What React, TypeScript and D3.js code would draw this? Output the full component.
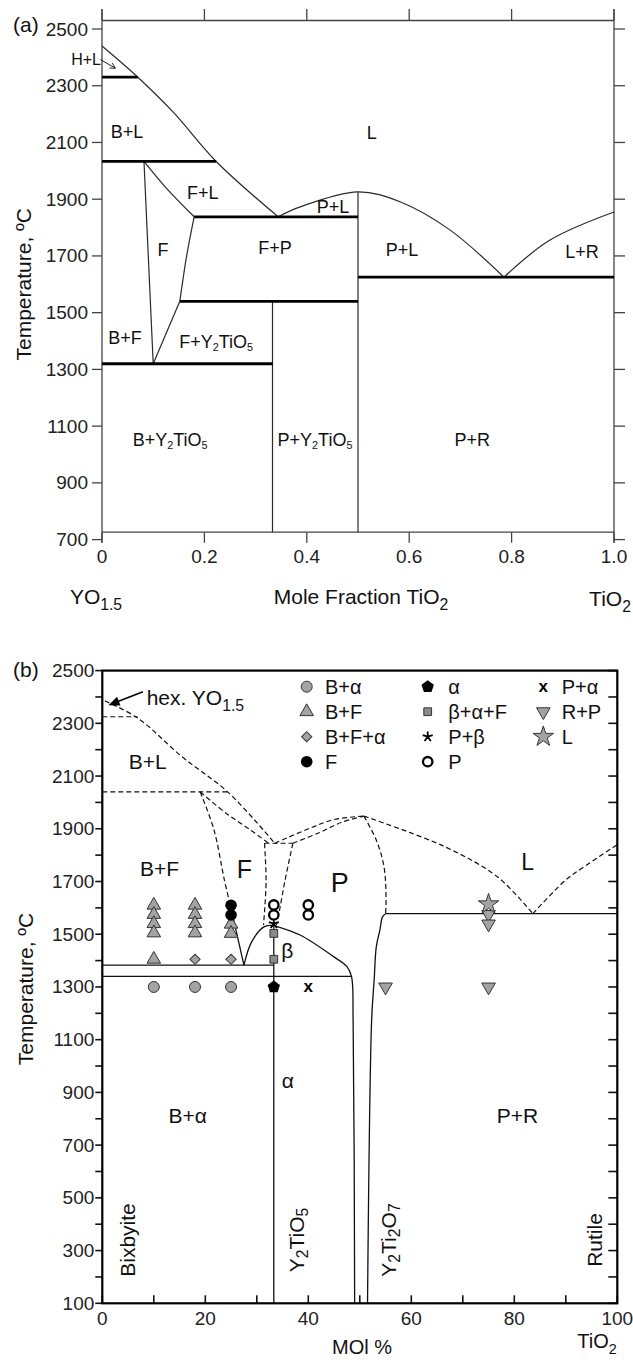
import * as d3 from "d3";

const FONT = "'Liberation Sans', Arial, Helvetica, sans-serif";

// ---------- panel (a): mole fraction TiO2 vs temperature ----------
const aTicksX = [0, 0.2, 0.4, 0.6, 0.8, 1.0];
const aTickLabelsX = ["0", "0.2", "0.4", "0.6", "0.8", "1.0"];
const aTicksY = [700, 900, 1100, 1300, 1500, 1700, 1900, 2100, 2300, 2500];

// thin phase boundaries [x, T]
const aLiquidusLeft = [[0, 2440], [0.07, 2330], [0.14, 2205], [0.223, 2033], [0.344, 1838]];
const aFLSolidus = [[0.082, 2033], [0.126, 1938], [0.18, 1838]];
const aFLeft = [[0.082, 2033], [0.1, 1320]];
const aFRightUpper = [[0.18, 1838], [0.165, 1697], [0.152, 1540]];
const aFRightLower = [[0.152, 1540], [0.1, 1320]];
const aY2TiO5Line = [[0.333, 726], [0.333, 1540]];
const aPyroLine = [[0.5, 726], [0.5, 1926]];
const aPLiquidus = [[0.344, 1838], [0.387, 1873], [0.5, 1926], [0.582, 1891], [0.68, 1791], [0.785, 1625]];
const aLRLiquidus = [[0.785, 1625], [0.875, 1756], [1.0, 1855]];
// invariant (bold) lines
const aInvariants = [
  [[0, 2330], [0.07, 2330]],
  [[0, 2033], [0.223, 2033]],
  [[0.18, 1838], [0.5, 1838]],
  [[0.152, 1540], [0.5, 1540]],
  [[0, 1320], [0.333, 1320]],
  [[0.5, 1625], [1.0, 1625]],
];
const aLabels = [
  { t: "B+L", x: 0.049, T: 2137 },
  { t: "F+L", x: 0.197, T: 1922 },
  { t: "F", x: 0.119, T: 1721 },
  { t: "F+P", x: 0.338, T: 1728 },
  { t: "L", x: 0.527, T: 2133 },
  { t: "P+L", x: 0.451, T: 1872 },
  { t: "P+L", x: 0.586, T: 1721 },
  { t: "L+R", x: 0.9375, T: 1714 },
  { t: "B+F", x: 0.045, T: 1411 },
  { t: "F+Y_{2}TiO_{5}", x: 0.223, T: 1397 },
  { t: "B+Y_{2}TiO_{5}", x: 0.133, T: 1051 },
  { t: "P+Y_{2}TiO_{5}", x: 0.416, T: 1051 },
  { t: "P+R", x: 0.723, T: 1051 },
];

// ---------- panel (b): mol % TiO2 vs temperature ----------
const bTicksX = [0, 10, 20, 30, 40, 50, 60, 70, 80, 90, 100];
const bTickLabelsX = [0, 20, 40, 60, 80, 100];
const bTicksY = [100, 200, 300, 400, 500, 600, 700, 800, 900, 1000, 1100, 1200, 1300, 1400, 1500,
  1600, 1700, 1800, 1900, 2000, 2100, 2200, 2300, 2400, 2500];
const bTickLabelsY = [100, 300, 500, 700, 900, 1100, 1300, 1500, 1700, 1900, 2100, 2300, 2500];

const bDashed = [
  [[0.5, 2385], [6.8, 2321], [15.5, 2173], [24.5, 2037], [33.5, 1845]],
  [[0, 2325], [6.8, 2325]],
  [[0, 2040], [24.5, 2040]],
  [[19, 2040], [24.1, 1958], [28.8, 1895], [32.3, 1845]],
  [[19, 2040], [21.7, 1895], [23.7, 1706], [24.8, 1615]],
  [[31.5, 1845], [31.8, 1700], [31.3, 1535]],
  [[31.5, 1845], [37, 1845]],
  [[37, 1845], [35.5, 1706], [34.5, 1600], [33.8, 1535]],
  [[33.5, 1845], [39.8, 1898], [45, 1935], [50.8, 1948]],
  [[37, 1845], [42.1, 1885], [46.5, 1925], [50.8, 1948]],
  [[50.8, 1948], [53.2, 1857], [54.7, 1756], [55.1, 1630], [55, 1578]],
  [[50.8, 1948], [66.5, 1832], [76.7, 1718], [83.6, 1578]],
  [[83.6, 1578], [90, 1706], [93.2, 1751], [100, 1840]],
];
const bSolid = [
  [[0, 1383], [33.3, 1383]],
  [[0, 1340], [48.4, 1340]],
  [[33.3, 100], [33.3, 1533]],
  [[24.8, 1615], [27.5, 1383]],
  [[27.5, 1383], [29, 1471], [31.4, 1528], [33.3, 1533]],
  [[33.3, 1533], [38.4, 1497], [44.9, 1415], [47.5, 1377], [48.4, 1339], [48.7, 1175], [49, 100]],
  [[55, 1578], [54.4, 1566], [53.9, 1516], [53.2, 1452], [52.8, 1330], [52.3, 1175], [51.5, 100]],
  [[55, 1578], [100, 1578]],
];

// experimental points [mol %, T]
const ptsBAlpha = [[10, 1300], [18, 1300], [25, 1300]];
const ptsBF = [[10, 1610], [10, 1575], [10, 1540], [10, 1505], [10, 1405],
  [18, 1610], [18, 1575], [18, 1540], [18, 1505], [25, 1538], [25, 1503]];
const ptsBFAlpha = [[18, 1405], [25, 1405]];
const ptsF = [[25, 1610], [25, 1573]];
const ptsAlpha = [[33.3, 1300]];
const ptsBetaAlphaF = [[33.3, 1503], [33.3, 1405]];
const ptsPBeta = [[33.3, 1540]];
const ptsP = [[33.3, 1611], [33.3, 1573], [40, 1611], [40, 1573]];
const ptsPAlpha = [[40, 1300]];
const ptsRP = [[55, 1300], [75, 1300], [75, 1575], [75, 1539]];
const ptsL = [[75, 1614]];

const legendItems = [
  { label: "B+α", sym: "circleGray", pts: ptsBAlpha },
  { label: "B+F", sym: "triUp", pts: ptsBF },
  { label: "B+F+α", sym: "diamond", pts: ptsBFAlpha },
  { label: "F", sym: "circleBlack", pts: ptsF },
  { label: "α", sym: "pentagon", pts: ptsAlpha },
  { label: "β+α+F", sym: "square", pts: ptsBetaAlphaF },
  { label: "P+β", sym: "asterisk", pts: ptsPBeta },
  { label: "P", sym: "circleOpen", pts: ptsP },
  { label: "P+α", sym: "x", pts: ptsPAlpha },
  { label: "R+P", sym: "triDown", pts: ptsRP },
  { label: "L", sym: "star", pts: ptsL },
];

const bLabels = [
  { t: "B+L", x: 8.8, T: 2154, fs: 21 },
  { t: "B+F", x: 11.1, T: 1751, fs: 21 },
  { t: "F", x: 27.6, T: 1747, fs: 25 },
  { t: "P", x: 46.1, T: 1693, fs: 27 },
  { t: "L", x: 82.6, T: 1775, fs: 23 },
  { t: "β", x: 35.9, T: 1440, fs: 21 },
  { t: "α", x: 36.0, T: 947, fs: 21 },
  { t: "B+α", x: 16.6, T: 814, fs: 21 },
  { t: "P+R", x: 80.6, T: 814, fs: 21 },
];
const bRotLabels = [
  { t: "Bixbyite", x: 4.7, T: 340 },
  { t: "Y_{2}TiO_{5}", x: 37.6, T: 340 },
  { t: "Y_{2}Ti_{2}O_{7}", x: 55.5, T: 340 },
  { t: "Rutile", x: 95.4, T: 340 },
];

const pentagon = {
  draw(ctx: any, size: number) {
    const r = Math.sqrt(size / 2.378);
    for (let i = 0; i < 5; i++) {
      const a = -Math.PI / 2 + (i * 2 * Math.PI) / 5;
      if (i === 0) ctx.moveTo(r * Math.cos(a), r * Math.sin(a));
      else ctx.lineTo(r * Math.cos(a), r * Math.sin(a));
    }
    ctx.closePath();
  },
};
const asterisk = {
  draw(ctx: any, size: number) {
    const r = Math.sqrt(size) / 2;
    for (let i = 0; i < 5; i++) {
      const a = -Math.PI / 2 + (i * 2 * Math.PI) / 5;
      ctx.moveTo(0, 0);
      ctx.lineTo(r * Math.cos(a), r * Math.sin(a));
    }
  },
};

function Rich({ s, fs, sub = 0.68 }: { s: string; fs: number; sub?: number }) {
  const parts = s.split(/(_\{[^}]*\})/).filter((p) => p.length > 0);
  let shifted = false;
  return (
    <>
      {parts.map((p, i) => {
        if (p.startsWith("_{")) {
          const el = (
            <tspan key={i} fontSize={fs * sub} dy={fs * 0.3}>
              {p.slice(2, -1)}
            </tspan>
          );
          shifted = true;
          return el;
        }
        const el = (
          <tspan key={i} dy={shifted ? -fs * 0.3 : 0}>
            {p}
          </tspan>
        );
        shifted = false;
        return el;
      })}
    </>
  );
}

function Marker({ sym, x, y }: { sym: string; x: number; y: number }) {
  const gray = "#a3a3a3";
  const edge = "#333";
  const t = `translate(${x},${y})`;
  switch (sym) {
    case "circleGray":
      return <circle cx={x} cy={y} r={5.5} fill={gray} stroke={edge} strokeWidth={1} />;
    case "circleBlack":
      return <circle cx={x} cy={y} r={5.8} fill="#000" />;
    case "circleOpen":
      return <circle cx={x} cy={y} r={4.7} fill="#fff" stroke="#000" strokeWidth={2.3} />;
    case "triUp":
      return <path transform={t} d={d3.symbol(d3.symbolTriangle, 80)() as string} fill={gray} stroke={edge} strokeWidth={1} />;
    case "triDown":
      return <path transform={`${t} rotate(180)`} d={d3.symbol(d3.symbolTriangle, 80)() as string} fill={gray} stroke={edge} strokeWidth={1} />;
    case "diamond":
      return <path transform={`${t} rotate(45)`} d={d3.symbol(d3.symbolSquare, 52)() as string} fill={gray} stroke={edge} strokeWidth={1} />;
    case "square":
      return <path transform={t} d={d3.symbol(d3.symbolSquare, 60)() as string} fill="#8a8a8a" stroke={edge} strokeWidth={1} />;
    case "pentagon":
      return <path transform={t} d={d3.symbol(pentagon as any, 100)() as string} fill="#000" />;
    case "asterisk":
      return <path transform={t} d={d3.symbol(asterisk as any, 110)() as string} fill="none" stroke="#000" strokeWidth={1.8} />;
    case "star":
      return <path transform={t} d={d3.symbol(d3.symbolStar, 130)() as string} fill={gray} stroke={edge} strokeWidth={1} />;
    case "x":
      return (
        <text x={x} y={y} textAnchor="middle" dominantBaseline="central" fontSize={17} fontWeight="bold" fill="#000">
          x
        </text>
      );
    default:
      return null;
  }
}

export default function App() {
  const W = 633;
  const H = 1360;

  // panel (a) scales
  const ax = d3.scaleLinear().domain([0, 1]).range([102, 614]);
  const ay = d3.scaleLinear().domain([700, 2500]).range([539.6, 29]);
  const aTop = ay(2530);
  const aBot = ay(726);
  const lineA = d3
    .line<number[]>()
    .x((d) => ax(d[0]))
    .y((d) => ay(d[1]))
    .curve(d3.curveCatmullRom.alpha(0.5));

  // panel (b) scales
  const bx = d3.scaleLinear().domain([0, 100]).range([102.3, 617.3]);
  const by = d3.scaleLinear().domain([100, 2500]).range([1303.3, 670.6]);
  const lineB = d3
    .line<number[]>()
    .x((d) => bx(d[0]))
    .y((d) => by(d[1]))
    .curve(d3.curveCatmullRom.alpha(0.5));

  const frameA = "#444";
  const thinA = "#2a2a2a";

  // arrow geometry (panel b)
  const hexTip = [bx(1.2), by(2369)];
  const hexStart = [bx(7.9), by(2420)];
  const ang = Math.atan2(hexTip[1] - hexStart[1], hexTip[0] - hexStart[0]);
  const ah = 12;
  const headB = [
    [hexTip[0], hexTip[1]],
    [hexTip[0] - ah * Math.cos(ang - 0.4), hexTip[1] - ah * Math.sin(ang - 0.4)],
    [hexTip[0] - ah * Math.cos(ang + 0.4), hexTip[1] - ah * Math.sin(ang + 0.4)],
  ];
  const hexLineEnd = [hexTip[0] - 8 * Math.cos(ang), hexTip[1] - 8 * Math.sin(ang)];

  // arrow geometry (panel a, H+L)
  const hlStart = [ax(-0.003), ay(2392)];
  const hlTip = [ax(0.026), ay(2362)];
  const ang2 = Math.atan2(hlTip[1] - hlStart[1], hlTip[0] - hlStart[0]);
  const ah2 = 6;

  return (
    <svg
      width={W}
      height={H}
      viewBox={`0 0 ${W} ${H}`}
      style={{ position: "absolute", left: 0, top: 0, background: "#fff" }}
      fontFamily={FONT}
    >
      <rect x={0} y={0} width={W} height={H} fill="#fff" />

      {/* ================= panel (a) ================= */}
      <g>
        {/* frame */}
        <line x1={ax(0)} x2={ax(0)} y1={aTop - 11.5} y2={aBot + 10.5} stroke={frameA} strokeWidth={1.3} />
        <line x1={ax(1)} x2={ax(1)} y1={aTop - 11.5} y2={aBot + 10.5} stroke={frameA} strokeWidth={1.3} />
        <line x1={ax(0)} x2={ax(1)} y1={aTop} y2={aTop} stroke={frameA} strokeWidth={1.3} />
        <line x1={ax(0)} x2={ax(1)} y1={aBot} y2={aBot} stroke={frameA} strokeWidth={1.3} />
        {aTicksX.map((v) => (
          <g key={`atx${v}`}>
            <line x1={ax(v)} x2={ax(v)} y1={aTop - 11.5} y2={aTop} stroke={frameA} strokeWidth={1.3} />
            <line x1={ax(v)} x2={ax(v)} y1={aBot} y2={aBot + 10.5} stroke={frameA} strokeWidth={1.3} />
          </g>
        ))}
        {aTicksY.map((v) => (
          <g key={`aty${v}`}>
            <line x1={ax(0) - 10} x2={ax(0)} y1={ay(v)} y2={ay(v)} stroke={frameA} strokeWidth={1.3} />
            <line x1={ax(1)} x2={ax(1) + 11} y1={ay(v)} y2={ay(v)} stroke={frameA} strokeWidth={1.3} />
            <text x={ax(0) - 14} y={ay(v)} textAnchor="end" dominantBaseline="central" fontSize={19} fill="#222">
              {v}
            </text>
          </g>
        ))}
        {aTicksX.map((v, i) => (
          <text key={`atl${v}`} x={ax(v)} y={563} textAnchor="middle" fontSize={19} fill="#222">
            {aTickLabelsX[i]}
          </text>
        ))}

        {/* boundaries */}
        {[aLiquidusLeft, aFLSolidus, aFLeft, aFRightUpper, aFRightLower, aY2TiO5Line, aPyroLine, aPLiquidus, aLRLiquidus].map(
          (d, i) => (
            <path key={`aln${i}`} d={lineA(d as any) as string} fill="none" stroke={thinA} strokeWidth={1.2} />
          )
        )}
        {aInvariants.map((d, i) => (
          <path key={`ainv${i}`} d={lineA(d as any) as string} fill="none" stroke="#000" strokeWidth={2.8} />
        ))}

        {/* region labels */}
        {aLabels.map((l, i) => (
          <text key={`alab${i}`} x={ax(l.x)} y={ay(l.T)} textAnchor="middle" dominantBaseline="central" fontSize={18} fill="#111">
            <Rich s={l.t} fs={18} sub={0.6} />
          </text>
        ))}
        <text x={ax(0) - 1} y={ay(2392)} textAnchor="end" dominantBaseline="central" fontSize={16} fill="#111">
          H+L
        </text>
        <line x1={hlStart[0]} y1={hlStart[1]} x2={hlTip[0]} y2={hlTip[1]} stroke="#222" strokeWidth={1} />
        <path
          d={`M${hlTip[0] - ah2 * Math.cos(ang2 - 0.5)},${hlTip[1] - ah2 * Math.sin(ang2 - 0.5)} L${hlTip[0]},${hlTip[1]} L${
            hlTip[0] - ah2 * Math.cos(ang2 + 0.5)
          },${hlTip[1] - ah2 * Math.sin(ang2 + 0.5)}`}
          fill="none"
          stroke="#222"
          strokeWidth={1}
        />

        {/* titles */}
        <text x={13} y={32} fontSize={21} fill="#111">(a)</text>
        <text transform={`translate(23,${(ay(700) + ay(2500)) / 2}) rotate(-90)`} textAnchor="middle" dominantBaseline="central" fontSize={21} fill="#111">
          Temperature, ºC
        </text>
        <text x={96} y={604} textAnchor="middle" fontSize={21} fill="#111">
          <Rich s="YO_{1.5}" fs={21} sub={0.75} />
        </text>
        <text x={361} y={604} textAnchor="middle" fontSize={21} fill="#111">
          <Rich s="Mole Fraction TiO_{2}" fs={21} sub={0.75} />
        </text>
        <text x={610} y={606} textAnchor="middle" fontSize={21} fill="#111">
          <Rich s="TiO_{2}" fs={21} sub={0.75} />
        </text>
      </g>

      {/* ================= panel (b) ================= */}
      <g>
        {bTicksY.map((v) => (
          <g key={`bty${v}`}>
            <line x1={bx(0) - 7} x2={bx(0)} y1={by(v)} y2={by(v)} stroke="#111" strokeWidth={1.6} />
            <line x1={bx(100) - 9} x2={bx(100)} y1={by(v)} y2={by(v)} stroke="#111" strokeWidth={1.6} />
          </g>
        ))}
        {bTicksX.map((v) => (
          <line key={`btx${v}`} x1={bx(v)} x2={bx(v)} y1={by(100) - 8} y2={by(100)} stroke="#111" strokeWidth={1.6} />
        ))}
        {bTickLabelsY.map((v) => (
          <text key={`btyl${v}`} x={bx(0) - 8} y={by(v)} textAnchor="end" dominantBaseline="central" fontSize={19} fill="#222">
            {v}
          </text>
        ))}
        {bTickLabelsX.map((v) => (
          <text key={`btxl${v}`} x={bx(v)} y={1325} textAnchor="middle" fontSize={19} fill="#222">
            {v}
          </text>
        ))}

        {bDashed.map((d, i) => (
          <path key={`bd${i}`} d={lineB(d as any) as string} fill="none" stroke="#111" strokeWidth={1.2} strokeDasharray="5,3" />
        ))}
        {bSolid.map((d, i) => (
          <path key={`bs${i}`} d={lineB(d as any) as string} fill="none" stroke="#111" strokeWidth={1.3} />
        ))}

        {/* frame */}
        <rect x={bx(0)} y={by(2500)} width={bx(100) - bx(0)} height={by(100) - by(2500)} fill="none" stroke="#000" strokeWidth={2.2} />

        {/* data points */}
        {legendItems.map((it) =>
          it.pts.map((p, j) => <Marker key={`${it.label}-${j}`} sym={it.sym} x={bx(p[0])} y={by(p[1])} />)
        )}

        {/* legend */}
        {legendItems.map((it, i) => {
          const col = Math.floor(i / 4);
          const row = i % 4;
          const mx = [306.7, 427.7, 543.3][col];
          const tx = [325, 448.3, 561.7][col];
          const yy = 686.7 + row * 25;
          return (
            <g key={`leg${i}`}>
              <Marker sym={it.sym} x={mx} y={yy} />
              <text x={tx} y={yy} dominantBaseline="central" fontSize={20} fill="#111">
                {it.label}
              </text>
            </g>
          );
        })}

        {/* labels */}
        {bLabels.map((l, i) => (
          <text key={`blab${i}`} x={bx(l.x)} y={by(l.T)} textAnchor="middle" dominantBaseline="central" fontSize={l.fs} fill="#111">
            {l.t}
          </text>
        ))}
        {bRotLabels.map((l, i) => (
          <text
            key={`brot${i}`}
            transform={`translate(${bx(l.x)},${by(l.T)}) rotate(-90)`}
            textAnchor="middle"
            dominantBaseline="central"
            fontSize={21}
            fill="#111"
          >
            <Rich s={l.t} fs={21} sub={0.75} />
          </text>
        ))}

        {/* hex. YO1.5 arrow */}
        <line x1={hexStart[0]} y1={hexStart[1]} x2={hexLineEnd[0]} y2={hexLineEnd[1]} stroke="#000" strokeWidth={1.6} />
        <path d={`M${headB.map((p) => p.join(",")).join("L")}Z`} fill="#000" />
        <text x={146.7} y={705} fontSize={21} fill="#111">
          <Rich s="hex. YO_{1.5}" fs={21} sub={0.75} />
        </text>

        {/* titles */}
        <text x={13} y={677} fontSize={21} fill="#111">(b)</text>
        <text transform={`translate(25,989) rotate(-90)`} textAnchor="middle" dominantBaseline="central" fontSize={21} fill="#111">
          Temperature, ºC
        </text>
        <text x={362} y={1354} textAnchor="middle" fontSize={20} fill="#111">
          MOl %
        </text>
        <text x={597} y={1348} textAnchor="middle" fontSize={20} fill="#111">
          <Rich s="TiO_{2}" fs={20} sub={0.72} />
        </text>
      </g>
    </svg>
  );
}
